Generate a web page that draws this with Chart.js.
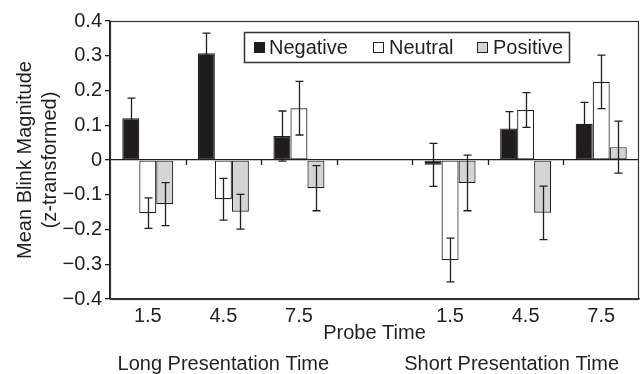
<!DOCTYPE html>
<html lang="en">
<head>
<meta charset="UTF-8">
<title>Mean Blink Magnitude</title>
<style>
  body { margin:0; padding:0; background:#fff; }
  #wrap { width:641px; height:374px; }
</style>
</head>
<body>
<div id="wrap"><canvas id="blinkChart" width="641" height="374"></canvas></div>
<script src="https://cdn.jsdelivr.net/npm/chart.js"></script>
<script>
// data
const probeTimes = ["1.5","4.5","7.5","","1.5","4.5","7.5"];
const groupNames = ["Long Presentation Time","Short Presentation Time"];
const negative    = [0.120, 0.307, 0.069, null, -0.014, 0.091, 0.104];
const negativeErr = [0.058, 0.058, 0.072, null, 0.062, 0.048, 0.062];
const neutral     = [-0.153, -0.113, 0.149, null, -0.288, 0.144, 0.225];
const neutralErr  = [0.044, 0.060, 0.077, null, 0.063, 0.050, 0.077];
const positive    = [-0.127, -0.149, -0.081, null, -0.066, -0.152, 0.037];
const positiveErr = [0.062, 0.050, 0.065, null, 0.080, 0.077, 0.075];

const INK = '#231f20';
const FONT = "'Liberation Sans', Arial, sans-serif";
Chart.defaults.font.family = FONT;
Chart.defaults.font.size = 20;
Chart.defaults.color = INK;

function fmt(v){
  v = Math.round(v*10)/10;
  if (v === 0) return '0';
  return (v < 0 ? '\u2212' : '') + Math.abs(v).toFixed(1);
}

// error bars on top of every bar
const errorBars = {
  id:'errorBars',
  afterDatasetsDraw(chart){
    const {ctx, scales:{y}} = chart;
    ctx.save();
    ctx.strokeStyle = INK; ctx.lineWidth = 1.3;
    chart.data.datasets.forEach((ds,i)=>{
      chart.getDatasetMeta(i).data.forEach((bar,j)=>{
        const v = ds.data[j], e = ds.errors[j];
        if (v == null) return;
        const x = Math.round(bar.x)+0.5;
        const t = y.getPixelForValue(v+e), b = y.getPixelForValue(v-e);
        ctx.beginPath();
        ctx.moveTo(x,t); ctx.lineTo(x,b);
        ctx.moveTo(x-4,t); ctx.lineTo(x+4,t);
        ctx.moveTo(x-4,b); ctx.lineTo(x+4,b);
        ctx.stroke();
      });
    });
    ctx.restore();
  }
};

// frame, zero-line ticks, legend box and group labels
const extras = {
  id:'extras',
  afterDraw(chart){
    const {ctx, chartArea:a, scales:{x,y}} = chart;
    ctx.save();
    ctx.strokeStyle = '#333'; ctx.lineWidth = 1.2;
    ctx.strokeRect(a.left+0.5, a.top+0.5, a.right-a.left-1, a.bottom-a.top);
    // ticks hanging from the zero line at category boundaries
    const y0 = y.getPixelForValue(0);
    ctx.strokeStyle = INK; ctx.lineWidth = 1.3;
    for (let i=0;i<probeTimes.length-1;i++){
      const bx = Math.round((x.getPixelForValue(i)+x.getPixelForValue(i+1))/2)+0.5;
      ctx.beginPath(); ctx.moveTo(bx,y0); ctx.lineTo(bx,y0+5); ctx.stroke();
    }
    // legend
    ctx.lineWidth = 1.5; ctx.strokeStyle = '#333';
    ctx.fillStyle = '#fff';
    ctx.fillRect(244,32,325,30);
    ctx.strokeRect(244.5,32.5,325,30);
    const items = [[254,269],[373,389],[477,493]];
    ctx.font = "20px " + FONT;
    ctx.textBaseline = 'middle';
    chart.data.datasets.forEach((ds,i)=>{
      const [sx,tx] = items[i];
      ctx.fillStyle = ds.backgroundColor;
      ctx.fillRect(sx,42,11,11);
      ctx.lineWidth = 1; ctx.strokeStyle = INK;
      ctx.strokeRect(sx+0.5,42.5,10,10);
      ctx.fillStyle = INK;
      ctx.fillText(ds.label, tx, 48);
    });
    // group labels under the axis
    ctx.textAlign = 'center';
    ctx.fillText(groupNames[0], x.getPixelForValue(1), 364);
    ctx.fillText(groupNames[1], x.getPixelForValue(5)-14, 364);
    ctx.restore();
  }
};

new Chart(document.getElementById('blinkChart'), {
  type:'bar',
  data:{
    labels: probeTimes,
    datasets:[
      { label:'Negative', data:negative, errors:negativeErr, backgroundColor:'#1f1c1d' },
      { label:'Neutral',  data:neutral,  errors:neutralErr,  backgroundColor:'#ffffff' },
      { label:'Positive', data:positive, errors:positiveErr, backgroundColor:'#d4d4d4' }
    ]
  },
  options:{
    responsive:false,
    animation:false,
    layout:{ padding:{ top:21, right:2, left:0, bottom:0 } },
    datasets:{ bar:{ borderColor:INK, borderWidth:1.2, borderSkipped:false,
                     categoryPercentage:0.675, barPercentage:1.0 } },
    plugins:{ legend:{ display:false }, tooltip:{ enabled:false } },
    scales:{
      x:{
        grid:{ display:false, drawTicks:false },
        border:{ display:true, color:'#333', width:1.2 },
        ticks:{ padding:5, font:{ size:20 }, color:INK },
        title:{ display:true, text:'Probe Time', font:{ size:20 }, padding:{ top:0, bottom:29 } },
        afterFit(s){ s.height = 75; }
      },
      y:{
        min:-0.4, max:0.4,
        grid:{
          color: c => (c.tick && Math.abs(c.tick.value) < 1e-9) ? INK : 'rgba(0,0,0,0)',
          lineWidth:1.3, tickColor:INK, tickLength:5, drawTicks:true
        },
        border:{ display:true, color:INK, width:1.3 },
        ticks:{ stepSize:0.1, padding:3, callback:v=>fmt(v), font:{ size:20 }, color:INK },
        title:{ display:true, text:['Mean Blink Magnitude','(z-transformed)'],
                font:{ size:20, lineHeight:1.25 }, padding:{ top:13, bottom:0 } },
        afterFit(s){ s.width = 110; }
      }
    }
  },
  plugins:[errorBars, extras]
});
</script>
</body>
</html>
